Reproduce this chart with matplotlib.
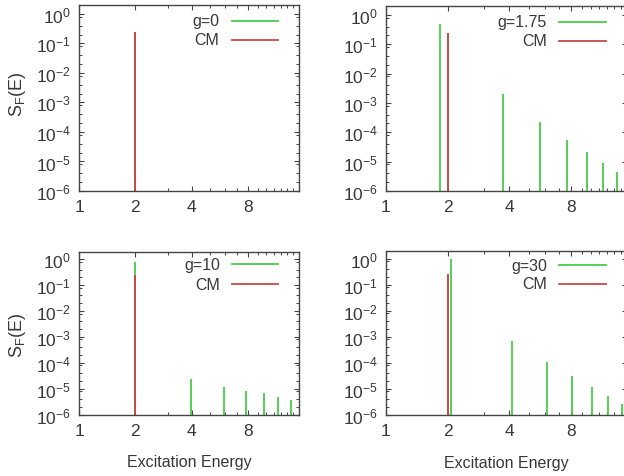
import numpy as np
import matplotlib
matplotlib.use("Agg")
import matplotlib.pyplot as plt
from matplotlib.ticker import LogLocator, FixedLocator, FixedFormatter, NullFormatter

plt.rcParams['font.family'] = ['Liberation Sans', 'DejaVu Sans']
plt.rcParams['mathtext.fontset'] = 'custom'
plt.rcParams['mathtext.rm'] = 'Liberation Sans'
plt.rcParams['mathtext.it'] = 'Liberation Sans'

# spectral lines
cm_x = [2.0]
cm_y = [0.25]

g0_x = [2.0]
g0_y = [0.25]

g175_x = [1.83, 3.71, 5.64, 7.61, 9.53, 11.49, 13.44]
g175_y = [0.48, 1.95e-3, 2.2e-4, 5.5e-5, 2.05e-5, 8.7e-6, 4.6e-6]

g10_x = [2.0, 3.97, 5.95, 7.85, 9.75, 11.65, 13.55]
g10_y = [0.8, 2.3e-5, 1.18e-5, 8.3e-6, 6.6e-6, 4.9e-6, 3.7e-6]

g30_x = [2.07, 4.13, 6.12, 8.11, 10.08, 12.15, 14.12]
g30_y = [0.95, 6.8e-4, 1.1e-4, 3.0e-5, 1.2e-5, 5.4e-6, 2.6e-6]

labels = ['g=0', 'g=1.75', 'g=10', 'g=30']
series = [(g0_x, g0_y), (g175_x, g175_y), (g10_x, g10_y), (g30_x, g30_y)]

xticks = [1, 2, 4, 8]
xminor = [3, 5, 6, 7, 9, 10, 11, 12, 13, 14, 15]

green = '#48cc48'
red = '#c44a4a'
text_col = '#383838'
spine_col = '#444444'

W, H = 624, 477
fig = plt.figure(figsize=(W / 100, H / 100), dpi=100)

# panel boxes in pixels: left, right, top, bottom
boxes = [(79, 299, 6, 192), (386, 627, 7, 192),
         (79, 299, 252.5, 415.5), (386, 627, 252, 415.7)]
leg_text_x = [0.636, 0.668, 0.641, 0.668]
leg_line = [(0.695, 0.905), (0.718, 0.913), (0.695, 0.905), (0.718, 0.913)]
leg_y = [(0.916, 0.813), (0.915, 0.813), (0.923, 0.80), (0.914, 0.80)]
ylab_y = [94, None, 335, None]

for i, (l, r, t, b) in enumerate(boxes):
    ax = fig.add_axes([l / W, 1 - b / H, (r - l) / W, (b - t) / H])
    gx, gy = series[i]
    ax.vlines(gx, 1e-7, gy, color=green, lw=1.3)
    ax.vlines(cm_x, 1e-7, cm_y, color=red, lw=1.4)

    ax.set_xscale('log', base=2)
    ax.set_yscale('log')
    ax.set_xlim(1, 15)
    ax.set_ylim(1e-6, 2)

    ax.xaxis.set_major_locator(FixedLocator(xticks))
    ax.xaxis.set_major_formatter(FixedFormatter([str(v) for v in xticks]))
    ax.xaxis.set_minor_locator(FixedLocator(xminor))
    ax.xaxis.set_minor_formatter(NullFormatter())
    ax.yaxis.set_major_locator(LogLocator(base=10, numticks=10))
    ax.yaxis.set_minor_locator(LogLocator(base=10, subs=(2, 4, 8), numticks=10))
    ax.yaxis.set_minor_formatter(NullFormatter())

    ax.tick_params(which='both', direction='in', top=True, right=True,
                   colors=spine_col, labelcolor=text_col, labelsize=12.5)
    ax.tick_params(which='major', length=3.5, width=0.8, pad=6)
    ax.tick_params(which='minor', length=2, width=0.7)
    for sp in ax.spines.values():
        sp.set_color(spine_col)
        sp.set_linewidth(1.0)

    # key, right-aligned text then sample line
    for lab, col, yy in zip([labels[i], 'CM'], [green, red], leg_y[i]):
        ax.text(leg_text_x[i], yy, lab, transform=ax.transAxes, ha='right',
                va='center', fontsize=11.5, color=text_col)
        ax.plot(leg_line[i], [yy, yy], transform=ax.transAxes, color=col,
                lw=1.3, clip_on=False)

    if ylab_y[i] is not None:
        fig.text(17 / W, 1 - ylab_y[i] / H, r'S$_\mathrm{F}$(E)', rotation=90,
                 ha='center', va='center', fontsize=13, color=text_col)
    if i >= 2:
        ax.set_xlabel('Excitation Energy', fontsize=11.5, color=text_col,
                      labelpad=12)

fig.savefig('out.png', dpi=100)
